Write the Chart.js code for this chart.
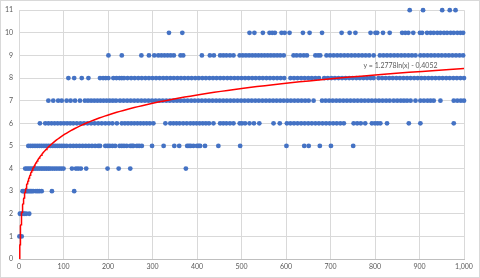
<!DOCTYPE html>
<html>
<head>
<meta charset="utf-8">
<script src="https://cdn.jsdelivr.net/npm/chart.js@4/dist/chart.umd.min.js"></script>
<style>
  html, body { margin: 0; padding: 0; background: #fff; }
  canvas { display: block; }
</style>
</head>
<body>
<canvas id="scatter-chart" width="480" height="278"></canvas>
<script>
// x values of the dots, one list per integer y level
var row1 = [1, 6];
var row2 = [2, 5, 9, 12, 16, 23];
var row3 = [8, 11, 14, 17, 20, 23, 26, 29, 32, 38, 42, 46, 51, 74, 124];
var row4 = [14, 18, 22, 26, 30, 34, 38, 42, 46, 50, 54, 58, 62, 66, 70, 75, 80, 85, 90, 95, 100,
            119, 128, 133, 139, 151, 199, 224, 250, 375];
var row5 = [21, 26, 31, 36, 41, 46, 51, 56, 61, 66, 71, 76, 81, 86, 91, 96, 101, 107,
            115, 122, 129, 136, 143, 150, 157, 164, 171, 178, 182, 194, 199, 204, 210, 216,
            226, 231, 236, 242, 250, 254, 257, 265, 270, 276, 299, 325, 349, 360,
            378, 382, 386, 392, 400, 404, 407, 418, 448, 497, 601, 641, 651, 676, 701, 751];
var row6 = [47, 59, 66, 73, 80, 87, 94, 101, 108, 115, 122, 130, 138, 146, 154, 162, 170, 178,
            186, 194, 202, 210, 220, 231, 238, 245, 252, 259, 266, 273, 280, 287, 294, 302,
            329, 340, 347, 354, 361, 369, 377, 385, 392, 399, 406, 413, 420, 427, 437,
            452, 459, 466, 474, 482, 496, 501, 508, 518, 528, 540, 572, 586,
            602, 610, 618, 626, 634, 642, 650, 658, 666, 674, 682, 690, 698, 706, 714, 722, 730,
            752, 760, 768, 778, 793, 800, 806, 812, 827, 876, 902, 977];
var row7 = [66, 77, 88, 96, 107, 116, 126, 137, 148, 155, 162, 169, 176, 183, 190, 197, 204, 211,
            218, 227, 235, 243, 251, 259, 267, 275, 283, 291, 299, 307, 315, 323, 331, 339, 347,
            355, 363, 371, 379, 387, 395, 403, 411, 419, 427, 435, 443, 451, 459, 467, 475, 483,
            491, 499, 507, 515, 523, 531, 539, 547, 555, 563, 571, 579, 587, 595, 603, 611, 619,
            627, 635, 643, 651, 662, 681, 689, 697, 705, 713, 721, 729, 737, 745, 753, 761, 769,
            777, 785, 793, 801, 809, 817, 825, 833, 842, 850, 858, 865, 872, 880, 891,
            902, 910, 918, 925, 932, 947, 977, 985, 993, 1000];
var row8 = [111, 124, 141, 156, 182, 189, 195, 201, 212, 219, 226, 231, 236, 244, 252, 260, 268,
            276, 284, 292, 300, 308, 316, 324, 332, 340, 348, 356, 364, 372, 380, 388, 396, 404,
            412, 420, 428, 436, 444, 452, 460, 468, 476, 484, 492, 500, 508, 516, 524, 532, 540,
            548, 556, 564, 572, 580, 588, 596, 610, 618, 626, 634, 642, 650, 658, 666, 674,
            686, 694, 702, 710, 718, 726, 734, 742, 750, 758, 766, 774, 782, 790, 797,
            808, 816, 824, 832, 840, 848, 856, 864, 872, 880, 888, 896, 904, 912, 920, 928,
            936, 944, 952, 960, 968, 976, 984, 992, 1000];
var row9 = [201, 231, 275, 292, 304, 313, 320, 327, 334, 341, 348, 363, 369, 411, 429, 438,
            452, 459, 466, 474, 482, 496, 503, 510, 517, 524, 531, 538, 545, 552, 559, 566, 573,
            580, 587, 595, 617, 624, 632, 640, 647, 666, 672, 677, 691, 699, 707, 715, 723, 731,
            739, 747, 755, 763, 771, 779, 787, 797, 811, 819, 827, 835, 843, 851, 859, 867, 875,
            883, 891, 902, 910, 918, 926, 934, 942, 950, 958, 966, 974, 982, 990, 998];
var row10 = [337, 367, 518, 529, 548, 563, 569, 575, 590, 597, 608, 638, 653, 681, 725, 743,
             756, 790, 801, 805, 818, 833, 861, 868, 875, 886, 901, 906, 917, 925, 932, 940,
             947, 955, 962, 970, 977, 985, 992, 998];
var row11 = [878, 908, 951, 968, 981];

var rows = [row1, row2, row3, row4, row5, row6, row7, row8, row9, row10, row11];

// logarithmic trendline as printed on the chart
var trendA = 1.2778;
var trendB = -0.4052;
var trendLabel = 'y = 1.2778ln(x) - 0.4052';

var points = [];
rows.forEach(function (xs, i) {
    xs.forEach(function (x) { points.push({ x: x, y: i + 1 }); });
});

var trend = [];
var x0 = Math.exp(-trendB / trendA);
for (var k = 0; k <= 200; k++) {
    var x = x0 * Math.pow(1000 / x0, k / 200);
    trend.push({ x: x, y: trendA * Math.log(x) + trendB });
}

var gray = '#595959';
var font = { family: 'Lato', size: 7 };

var extras = {
    id: 'extras',
    afterDraw: function (chart) {
        var c = chart.ctx;
        var xs = chart.scales.x, ys = chart.scales.y;
        c.save();
        c.font = '7px Lato';
        c.fillStyle = gray;
        c.textBaseline = 'middle';
        c.fillText(trendLabel, xs.getPixelForValue(774), ys.getPixelForValue(8.55));
        c.strokeStyle = '#d9d9d9';
        c.lineWidth = 1;
        c.strokeRect(0.5, 0.5, chart.width - 1, chart.height - 1);
        c.restore();
    }
};

var ctx = document.getElementById('scatter-chart').getContext('2d');
new Chart(ctx, {
    type: 'scatter',
    data: {
        datasets: [{
            data: trend,
            type: 'line',
            borderColor: '#ff0000',
            borderWidth: 1.5,
            pointRadius: 0,
            fill: false,
            tension: 0
        }, {
            data: points,
            backgroundColor: '#4472c4',
            borderColor: '#4472c4',
            pointRadius: 2.4,
            borderWidth: 0,
            clip: false
        }]
    },
    options: {
        responsive: false,
        animation: false,
        devicePixelRatio: 1,
        layout: { padding: { top: 8, right: 16, left: 0, bottom: 0 } },
        plugins: { legend: { display: false }, tooltip: { enabled: false } },
        scales: {
            x: {
                type: 'linear', min: 0, max: 1000,
                ticks: { stepSize: 100, font: font, color: gray, padding: 4, maxRotation: 0 },
                grid: { color: '#d9d9d9', drawTicks: false },
                border: { color: '#bfbfbf' },
                afterFit: function (s) { s.height = 19; }
            },
            y: {
                min: 0, max: 11,
                ticks: { stepSize: 1, font: font, color: gray, padding: 6 },
                grid: { color: '#d9d9d9', drawTicks: false },
                border: { color: '#d9d9d9' },
                afterFit: function (s) { s.width = 19; }
            }
        }
    },
    plugins: [extras]
});
</script>
</body>
</html>
